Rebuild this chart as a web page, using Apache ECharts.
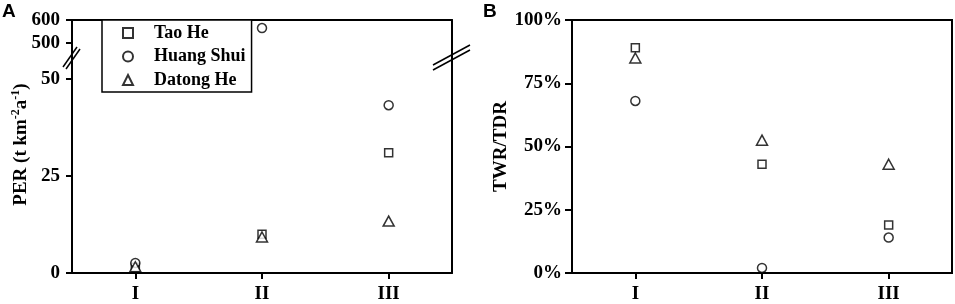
<!DOCTYPE html>
<html>
<head>
<meta charset="utf-8">
<script src="https://cdn.jsdelivr.net/npm/echarts@6/dist/echarts.min.js"></script>
<style>html,body{margin:0;padding:0;background:#fff;}#c{width:955px;height:304px;}</style>
</head>
<body>
<div id="c"></div>
<script>
// ---- data ----
const categories = ['I', 'II', 'III'];
const seriesNames = ['Tao He', 'Huang Shui', 'Datong He'];
const perTaoHe = [1.5, 10, 31];
const perHuangShui = [2.6, 565, 43.3];
const perDatongHe = [1.6, 9.3, 13.4];
const twrTaoHe = [89, 43, 19];
const twrHuangShui = [68, 2, 14];
const twrDatongHe = [85, 52.5, 43];
const perLowTicks = [0, 25, 50];
const perHighTicks = [500, 600];
const perLowRange = [0, 55.47];
const perHighRange = [435, 600];
const twrTicks = [0, 25, 50, 75, 100];

// ---- styling ----
const SERIF = 'Liberation Serif';
const symbols = ['rect', 'circle', 'triangle'];
const symbolSizes = [8, 9, [11, 10]];
const markStyle = { color: '#fff', borderColor: '#000', borderWidth: 1.5 };
const axisLineStyle = { show: true, lineStyle: { color: '#000', width: 2 } };
const labelFont = { color: '#000', fontFamily: SERIF, fontWeight: 'bold', fontSize: 19 };

const perData = [perTaoHe, perHuangShui, perDatongHe];
const twrData = [twrTaoHe, twrHuangShui, twrDatongHe];

const series = [];
perData.forEach((arr, i) => {
  series.push({
    name: seriesNames[i], type: 'scatter', xAxisIndex: 0, yAxisIndex: 0,
    symbol: symbols[i], symbolSize: symbolSizes[i], itemStyle: markStyle, clip: false,
    data: arr.map(v => (v <= perLowRange[1] ? v : '-'))
  });
  series.push({
    name: seriesNames[i], type: 'scatter', xAxisIndex: 1, yAxisIndex: 2,
    symbol: symbols[i], symbolSize: symbolSizes[i], itemStyle: markStyle, clip: false,
    data: arr.map(v => (v > perLowRange[1] ? v : '-'))
  });
});
twrData.forEach((arr, i) => {
  series.push({
    name: seriesNames[i], type: 'scatter', xAxisIndex: 2, yAxisIndex: 4,
    symbol: symbols[i], symbolSize: symbolSizes[i], itemStyle: markStyle, clip: false,
    data: arr
  });
});

function lineOnlyY(gridIndex, pos, range) {
  return {
    type: 'value', gridIndex: gridIndex, position: pos, min: range[0], max: range[1],
    axisLine: axisLineStyle, axisTick: { show: false }, axisLabel: { show: false }, splitLine: { show: false }
  };
}

const chart = echarts.init(document.getElementById('c'), null, { renderer: 'canvas' });
chart.setOption({
  animation: false,
  backgroundColor: '#fff',
  grid: [
    { left: 72, right: 503, top: 58, bottom: 30 },
    { left: 72, right: 503, top: 20, height: 38 },
    { left: 572, right: 3, top: 20, bottom: 29, show: true, borderColor: '#000', borderWidth: 2, backgroundColor: 'transparent' }
  ],
  xAxis: [
    { type: 'category', gridIndex: 0, data: categories, boundaryGap: true, position: 'bottom',
      axisLine: axisLineStyle, axisTick: { show: true, alignWithLabel: true, length: 6, lineStyle: { color: '#000', width: 2 } },
      axisLabel: Object.assign({ margin: 12 }, labelFont), splitLine: { show: false } },
    { type: 'category', gridIndex: 1, data: categories, boundaryGap: true, position: 'top',
      axisLine: axisLineStyle, axisTick: { show: false }, axisLabel: { show: false }, splitLine: { show: false } },
    { type: 'category', gridIndex: 2, data: categories, boundaryGap: true, position: 'bottom',
      axisLine: axisLineStyle, axisTick: { show: true, alignWithLabel: true, length: 6, lineStyle: { color: '#000', width: 2 } },
      axisLabel: Object.assign({ margin: 12 }, labelFont), splitLine: { show: false } }
  ],
  yAxis: [
    { type: 'value', gridIndex: 0, position: 'left', min: perLowRange[0], max: perLowRange[1],
      axisLine: axisLineStyle,
      axisTick: { show: true, length: 6, customValues: perLowTicks, lineStyle: { color: '#000', width: 2 } },
      axisLabel: Object.assign({ margin: 12, customValues: perLowTicks }, labelFont),
      splitLine: { show: false },
      name: 'PER (t km{sup|-2}a{sup|-1})', nameLocation: 'middle', nameGap: 40,
      nameTextStyle: {
        color: '#000', fontFamily: SERIF, fontWeight: 'bold', fontSize: 19, lineHeight: 22,
        padding: [0, 0, 0, 42],
        rich: { sup: { fontFamily: SERIF, fontWeight: 'bold', fontSize: 12, lineHeight: 12, verticalAlign: 'top', color: '#000' } }
      } },
    lineOnlyY(0, 'right', perLowRange),
    { type: 'value', gridIndex: 1, position: 'left', min: perHighRange[0], max: perHighRange[1],
      axisLine: axisLineStyle,
      axisTick: { show: true, length: 6, customValues: perHighTicks, lineStyle: { color: '#000', width: 2 } },
      axisLabel: Object.assign({ margin: 12, customValues: perHighTicks }, labelFont),
      splitLine: { show: false } },
    lineOnlyY(1, 'right', perHighRange),
    { type: 'value', gridIndex: 2, position: 'left', min: 0, max: 100,
      axisLine: axisLineStyle,
      axisTick: { show: true, length: 7, customValues: twrTicks, lineStyle: { color: '#000', width: 2 } },
      axisLabel: Object.assign({ margin: 10, customValues: twrTicks, formatter: '{value}%' }, labelFont),
      splitLine: { show: false },
      name: 'TWR/TDR', nameLocation: 'middle', nameGap: 52,
      nameTextStyle: { color: '#000', fontFamily: SERIF, fontWeight: 'bold', fontSize: 19 } }
  ],
  legend: {
    orient: 'vertical', left: 102, top: 20,
    padding: [4, 6, 3, 20],
    itemWidth: 10, itemHeight: 10, itemGap: 5.5,
    backgroundColor: '#fff', borderColor: '#000', borderWidth: 1.5,
    textStyle: { color: '#000', fontFamily: SERIF, fontWeight: 'bold', fontSize: 18, lineHeight: 18, padding: [0, 0, 0, 16] },
    data: seriesNames.map((n, i) => ({ name: n, icon: symbols[i] })),
    selectedMode: false
  },
  graphic: [
    { type: 'text', left: 2, top: 2, style: { text: 'A', fontFamily: 'Liberation Sans', fontWeight: 'bold', fontSize: 19, fill: '#000' } },
    { type: 'text', left: 483, top: 2, style: { text: 'B', fontFamily: 'Liberation Sans', fontWeight: 'bold', fontSize: 19, fill: '#000' } },
    { type: 'line', shape: { x1: 63, y1: 67, x2: 77, y2: 47 }, style: { stroke: '#000', lineWidth: 1.5 }, z: 100 },
    { type: 'line', shape: { x1: 66, y1: 69, x2: 80, y2: 49 }, style: { stroke: '#000', lineWidth: 1.5 }, z: 100 },
    { type: 'line', shape: { x1: 433, y1: 65, x2: 470, y2: 45 }, style: { stroke: '#000', lineWidth: 1.5 }, z: 100 },
    { type: 'line', shape: { x1: 433, y1: 70, x2: 470, y2: 50 }, style: { stroke: '#000', lineWidth: 1.5 }, z: 100 }
  ],
  series: series
});
</script>
</body>
</html>
